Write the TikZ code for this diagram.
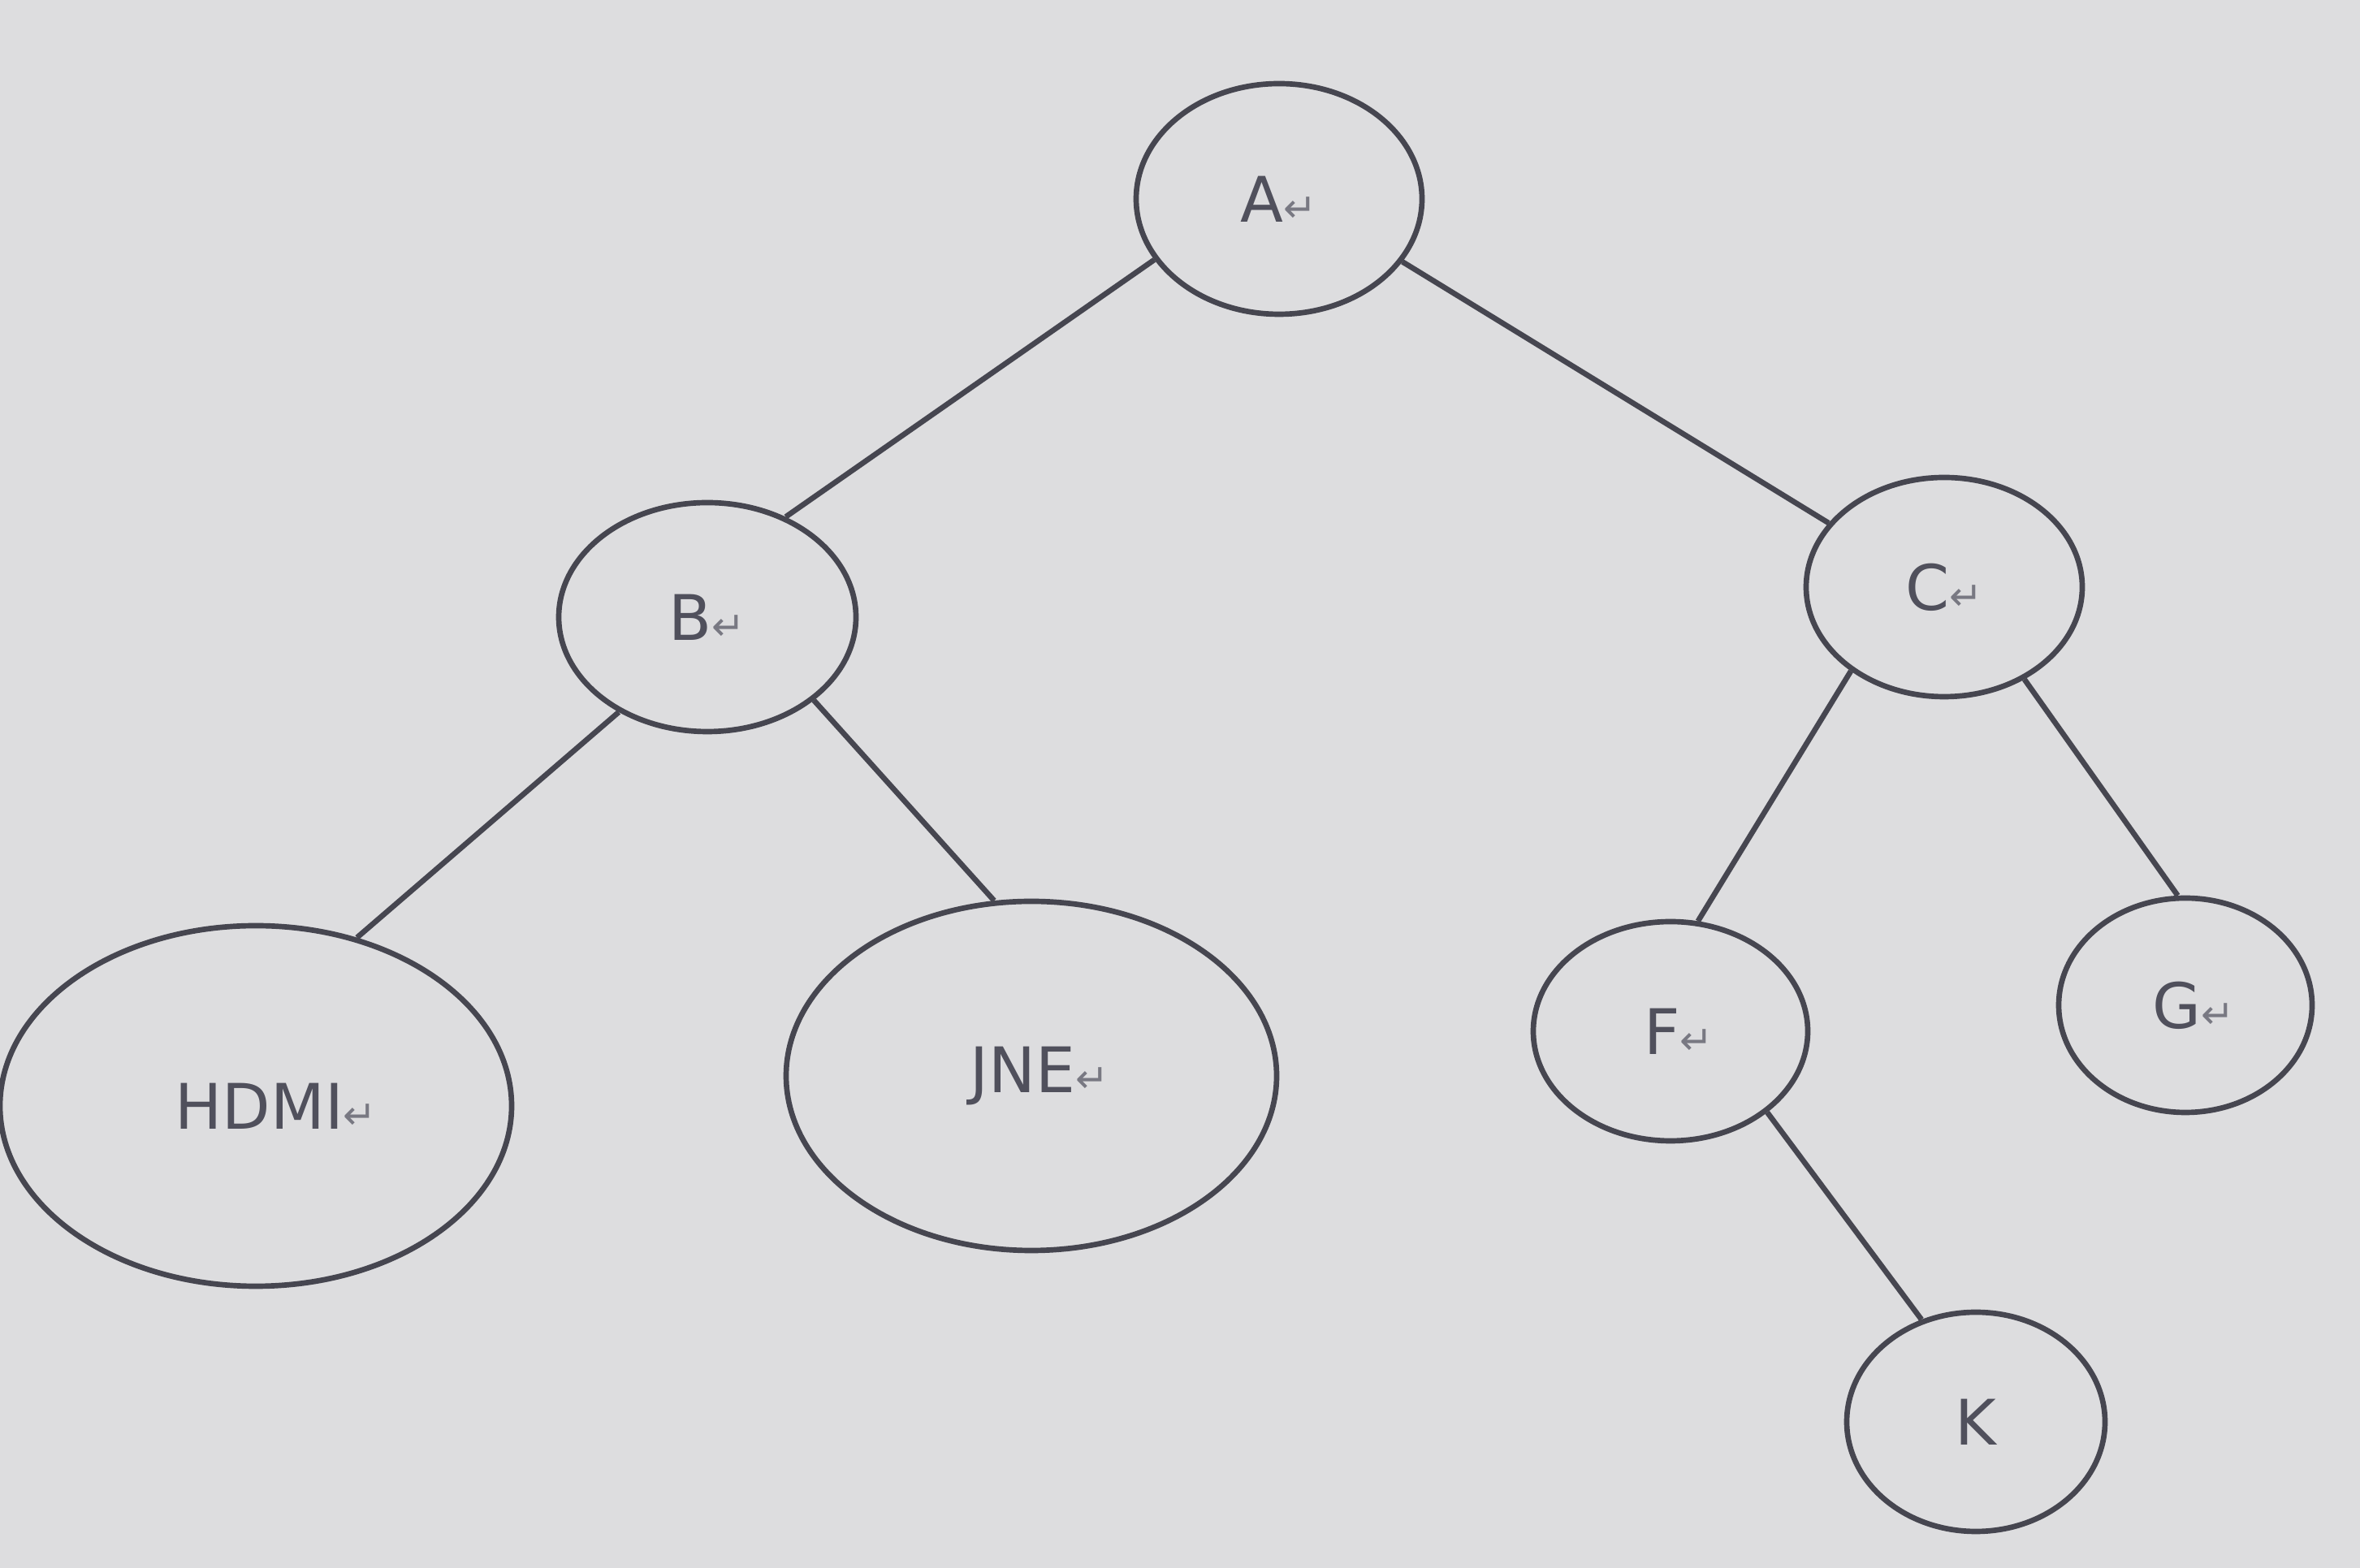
\documentclass[tikz,border=0pt]{standalone}
\usepackage{fontspec}
\setmainfont{DejaVu Sans}
\usetikzlibrary{shapes.geometric}
\definecolor{bg}{RGB}{221,221,223}
\definecolor{ink}{RGB}{70,70,80}
\definecolor{txt}{RGB}{80,80,92}
\definecolor{mark}{RGB}{120,120,130}
\newcommand{\pmark}{{\fontsize{14}{14}\selectfont\color{mark}↵}}
\tikzset{
  treenode/.style={ellipse, draw=ink, line width=1.9pt, inner sep=0pt, text=txt,
    font=\fontsize{22}{26}\selectfont},
  edge/.style={draw=ink, line width=1.9pt}
}
\begin{document}
\begin{tikzpicture}
\fill[bg] (0,0) rectangle (29.06,19.31);
\useasboundingbox (0,0) rectangle (29.06,19.31);
\node[treenode, minimum width=3.52cm, minimum height=2.84cm] (A) at (15.75,16.86) {A\pmark};
\node[treenode, minimum width=3.66cm, minimum height=2.82cm] (B) at (8.71,11.71) {B\pmark};
\node[treenode, minimum width=3.40cm, minimum height=2.70cm] (C) at (23.94,12.08) {C\pmark};
\node[treenode, minimum width=6.30cm, minimum height=4.44cm] (H) at (3.15,5.69) {\hspace{0.5cm}HDMI\pmark};
\node[treenode, minimum width=6.04cm, minimum height=4.30cm] (J) at (12.70,6.06) {\hspace{0.2cm}JNE\pmark};
\node[treenode, minimum width=3.38cm, minimum height=2.70cm] (F) at (20.57,6.61) {\hspace{0.2cm}F\pmark};
\node[treenode, minimum width=3.12cm, minimum height=2.64cm] (G) at (26.91,6.93) {\hspace{0.2cm}G\pmark};
\node[treenode, minimum width=3.18cm, minimum height=2.70cm] (K) at (24.33,1.80) {K};
\draw[edge] (A.206) -- (B.52);
\draw[edge] (A.333) -- (C.151);
\draw[edge] (B.227) -- (H.59);
\draw[edge] (B.322) -- (J.102);
\draw[edge] (C.222) -- (F.76);
\draw[edge] (C.311) -- (G.94);
\draw[edge] (F.320) -- (K.118);
\end{tikzpicture}
\end{document}
